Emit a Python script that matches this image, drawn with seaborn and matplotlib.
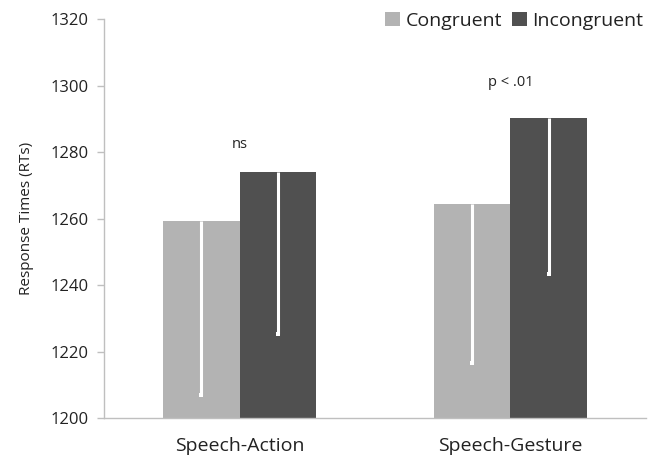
import matplotlib
matplotlib.use("Agg")
import matplotlib.pyplot as plt
import seaborn as sns
import pandas as pd
import numpy as np

categories = ["Speech-Action", "Speech-Gesture"]
conditions = ["Congruent", "Incongruent"]
congruent_rt = [1259.2, 1264.5]
incongruent_rt = [1274.1, 1290.4]
congruent_err = [52.3, 47.8]
incongruent_err = [48.9, 47.0]
annotations = ["ns", "p < .01"]
y_ticks = [1200, 1220, 1240, 1260, 1280, 1300, 1320]

sns.set_theme(style="white")
plt.rcParams['font.family'] = ['Open Sans', 'DejaVu Sans']

df = pd.DataFrame({
    "category": categories * 2,
    "condition": [conditions[0]] * 2 + [conditions[1]] * 2,
    "rt": congruent_rt + incongruent_rt,
    "err": congruent_err + incongruent_err,
})

fig = plt.figure(figsize=(6.55, 4.61), dpi=100)
ax = fig.add_axes([104 / 655, 1 - 418 / 461, (646 - 104) / 655, (418 - 19.5) / 461])

palette = {"Congruent": "#b3b3b3", "Incongruent": "#505050"}
sns.barplot(data=df, x="category", y="rt", hue="condition", order=categories,
            hue_order=conditions, palette=palette, width=0.568, saturation=1,
            errorbar=None, ax=ax, edgecolor="none", zorder=2)

# error bars (downward only, white)
for cond_i, cond in enumerate(conditions):
    container = ax.containers[cond_i]
    sub = df[df["condition"] == cond].set_index("category").loc[categories]
    xs = np.array([p.get_x() + p.get_width() / 2 for p in container.patches])
    ys = sub["rt"].values
    errs = sub["err"].values
    ax.errorbar(xs, ys, yerr=[errs, np.zeros_like(errs)], fmt="none",
                ecolor="white", elinewidth=2.2, capsize=0, zorder=3)
    ax.plot(xs, ys - errs, linestyle="none", marker="s", markersize=3.2,
            color="white", markeredgewidth=0, zorder=4)

ax.set_ylim(1200, 1320)
ax.set_xlim(-0.5, 1.5)
ax.set_yticks(y_ticks)
ax.set_yticklabels([str(v) for v in y_ticks], fontsize=12, color="#222222")
ax.set_xticks([0, 1])
ax.set_xticklabels(categories, fontsize=14, color="#222222")
ax.set_xticks([-0.5, 0.5, 1.5], minor=True)
ax.tick_params(axis="x", which="major", length=0, pad=14)
ax.tick_params(axis="x", which="minor", length=5, color="#bfbfbf", width=1, direction="out")
ax.tick_params(axis="y", length=5, color="#bfbfbf", width=1, direction="out", left=True, pad=6)
ax.set_xlabel("")
ax.set_ylabel("Response Times (RTs)", fontsize=11, color="#222222", labelpad=12)

for side in ["top", "right"]:
    ax.spines[side].set_visible(False)
for side in ["left", "bottom"]:
    ax.spines[side].set_color("#bfbfbf")
    ax.spines[side].set_linewidth(1)

# annotations
ann_y = [1282.5, 1301]
for i, txt in enumerate(annotations):
    ax.text(i, ann_y[i], txt, ha="center", va="center", fontsize=10.5, color="#222222")

leg = ax.legend(loc="upper right", bbox_to_anchor=(1.0, 1.0), bbox_transform=fig.transFigure,
                ncol=2, frameon=False, fontsize=14, handlelength=0.75, handleheight=0.75,
                handletextpad=0.3, columnspacing=0.5, borderaxespad=0.2, title=None)
for t in leg.get_texts():
    t.set_color("#222222")

fig.savefig("out.png", dpi=100)
